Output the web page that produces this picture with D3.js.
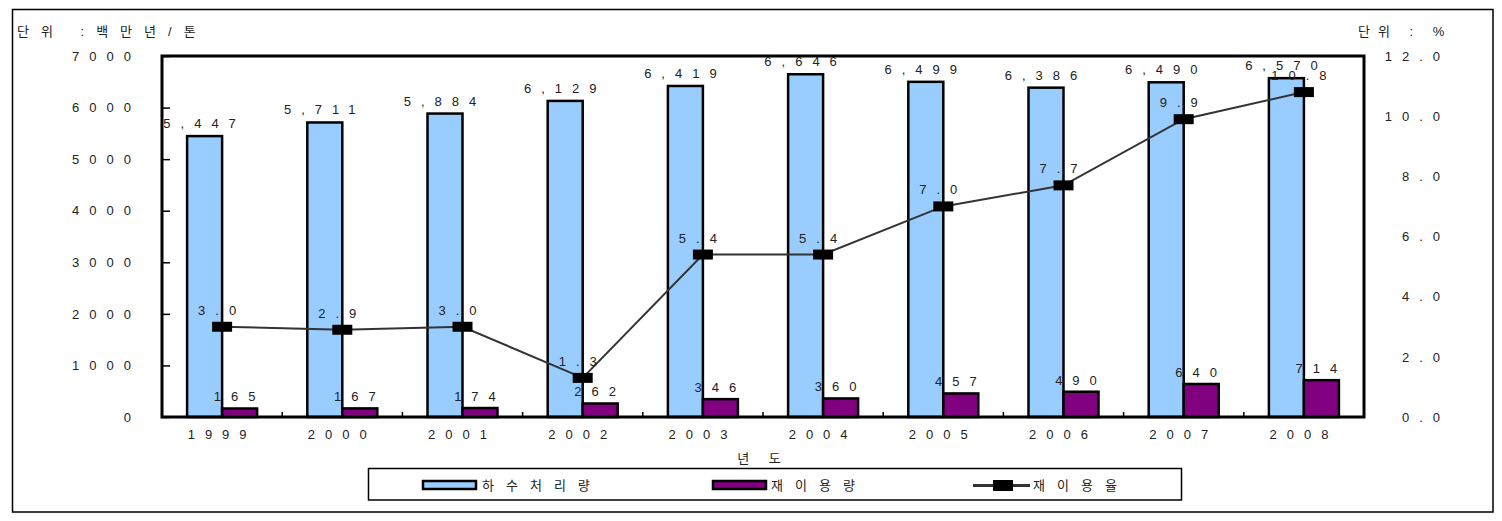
<!DOCTYPE html>
<html>
<head>
<meta charset="utf-8">
<script src="https://cdn.jsdelivr.net/npm/d3@7"></script>
<style>
    body { margin: 0; background: #fff; }
    text { font-family: "Liberation Sans", "Noto Sans CJK KR", sans-serif; font-size: 13px; fill: #222; }
</style>
</head>
<body>
<script>
/* Chart data */
var years = ['1999', '2000', '2001', '2002', '2003', '2004', '2005', '2006', '2007', '2008'];
var treated = [5447, 5711, 5884, 6129, 6419, 6646, 6499, 6386, 6490, 6570];   // 하수처리량
var reused = [165, 167, 174, 262, 346, 360, 457, 490, 640, 714];             // 재이용량
var rate = [3.0, 2.9, 3.0, 1.3, 5.4, 5.4, 7.0, 7.7, 9.9, 10.8];               // 재이용율
var leftTicks = [0, 1000, 2000, 3000, 4000, 5000, 6000, 7000];
var rightTicks = [0, 2, 4, 6, 8, 10, 12];

/* Plot area */
var width = 1502, height = 521;
var plot = {left: 162, right: 1364, top: 56, bottom: 417};

var svg = d3.select('body')
    .append('svg')
    .attr('width', width)
    .attr('height', height);

/* Outer frame */
svg.append('rect')
    .attr('x', 12.5).attr('y', 9.5)
    .attr('width', 1480.5).attr('height', 502.5)
    .attr('fill', 'none')
    .attr('stroke', '#000')
    .attr('stroke-width', 1.5);

/* Scales */
var x = d3.scaleBand().domain(years).range([plot.left, plot.right]);
var xs = d3.scaleBand().domain(['treated', 'reused'])
    .range([0, x.bandwidth()]).paddingOuter(0.717);
var yL = d3.scaleLinear().domain([0, 7000]).range([plot.bottom, plot.top]);
var yR = d3.scaleLinear().domain([0, 12]).range([plot.bottom, plot.top]);

/* Left axis, ticks pointing inward */
var gL = svg.append('g')
    .attr('transform', 'translate(' + plot.left + ',0)')
    .call(d3.axisLeft(yL).tickValues(leftTicks).tickSizeInner(-8).tickSizeOuter(0)
          .tickPadding(21).tickFormat(d3.format('d')));
gL.select('.domain').remove();
gL.selectAll('line').attr('stroke', '#000').attr('stroke-width', 1.5);
gL.selectAll('text').style('letter-spacing', '10px').attr('fill', '#222');

/* Right axis, labels only */
var gR = svg.append('g')
    .attr('transform', 'translate(' + plot.right + ',0)')
    .call(d3.axisRight(yR).tickValues(rightTicks).tickSize(0)
          .tickPadding(86).tickFormat(d3.format('.1f')));
gR.select('.domain').remove();
gR.selectAll('text').attr('text-anchor', 'end').style('letter-spacing', '10px').attr('fill', '#222');

/* Bottom axis: year labels at centres, ticks at category boundaries */
var gB = svg.append('g')
    .attr('transform', 'translate(0,' + plot.bottom + ')')
    .call(d3.axisBottom(x).tickSize(0).tickPadding(13));
gB.select('.domain').remove();
gB.selectAll('text').style('letter-spacing', '10px').attr('fill', '#222');

svg.append('g').selectAll('line')
    .data(years.slice(1))
    .enter()
    .append('line')
    .attr('x1', function (d) { return x(d); })
    .attr('x2', function (d) { return x(d); })
    .attr('y1', plot.bottom)
    .attr('y2', plot.bottom - 5)
    .attr('stroke', '#000')
    .attr('stroke-width', 1.5);

/* Bars */
var barG = svg.append('g');
barG.selectAll('.treated')
    .data(treated)
    .enter()
    .append('rect')
    .attr('class', 'treated')
    .attr('x', function (d, i) { return x(years[i]) + xs('treated'); })
    .attr('y', function (d) { return yL(d); })
    .attr('width', xs.bandwidth())
    .attr('height', function (d) { return yL(0) - yL(d); })
    .attr('fill', '#99CCFF')
    .attr('stroke', '#000')
    .attr('stroke-width', 2.5);

barG.selectAll('.reused')
    .data(reused)
    .enter()
    .append('rect')
    .attr('class', 'reused')
    .attr('x', function (d, i) { return x(years[i]) + xs('reused'); })
    .attr('y', function (d) { return yL(d); })
    .attr('width', xs.bandwidth())
    .attr('height', function (d) { return yL(0) - yL(d); })
    .attr('fill', '#800080')
    .attr('stroke', '#000')
    .attr('stroke-width', 2.5);

/* Plot border */
svg.append('rect')
    .attr('x', plot.left).attr('y', plot.top)
    .attr('width', plot.right - plot.left)
    .attr('height', plot.bottom - plot.top)
    .attr('fill', 'none')
    .attr('stroke', '#000')
    .attr('stroke-width', 3);

/* Reuse rate line with square markers */
var cx = function (i) { return x(years[i]) + x.bandwidth() / 2; };
var line = d3.line()
    .x(function (d, i) { return cx(i); })
    .y(function (d) { return yR(d); });

svg.append('path')
    .datum(rate)
    .attr('d', line)
    .attr('fill', 'none')
    .attr('stroke', '#333')
    .attr('stroke-width', 2);

svg.append('g').selectAll('rect')
    .data(rate)
    .enter()
    .append('rect')
    .attr('x', function (d, i) { return cx(i) - 10; })
    .attr('y', function (d) { return yR(d) - 5; })
    .attr('width', 20)
    .attr('height', 10)
    .attr('fill', '#000');

/* Value labels */
var labels = svg.append('g').style('letter-spacing', '10px').attr('text-anchor', 'middle');
labels.selectAll('.lt')
    .data(treated)
    .enter()
    .append('text')
    .attr('x', function (d, i) { return x(years[i]) + xs('treated') + xs.bandwidth() / 2; })
    .attr('y', function (d) { return yL(d) - 8; })
    .text(d3.format(','));

labels.selectAll('.lr')
    .data(reused)
    .enter()
    .append('text')
    .attr('x', function (d, i) { return x(years[i]) + xs('reused') + xs.bandwidth() / 2; })
    .attr('y', function (d) { return yL(d) - 7; })
    .text(d3.format('d'));

labels.selectAll('.lp')
    .data(rate)
    .enter()
    .append('text')
    .attr('x', function (d, i) { return cx(i); })
    .attr('y', function (d) { return yR(d) - 12; })
    .text(d3.format('.1f'));

/* Unit captions and axis title */
svg.append('text').attr('x', 17).attr('y', 36)
    .style('letter-spacing', '12px').text('단위 :백만년/톤');
svg.append('text').attr('x', 1358).attr('y', 36)
    .style('letter-spacing', '8px').text('단위 : %');
svg.append('text').attr('x', (plot.left + plot.right) / 2).attr('y', 463)
    .attr('text-anchor', 'middle')
    .style('letter-spacing', '8px').text('년 도');

/* Legend */
var legend = svg.append('g');
legend.append('rect')
    .attr('x', 368.5).attr('y', 468.5)
    .attr('width', 813).attr('height', 31.5)
    .attr('fill', 'none')
    .attr('stroke', '#000')
    .attr('stroke-width', 1.5);

legend.append('rect')
    .attr('x', 423).attr('y', 481).attr('width', 53).attr('height', 8)
    .attr('fill', '#99CCFF').attr('stroke', '#000').attr('stroke-width', 2.5);
legend.append('text').attr('x', 482).attr('y', 490)
    .style('letter-spacing', '12px').text('하수처리량');

legend.append('rect')
    .attr('x', 713).attr('y', 481).attr('width', 53).attr('height', 8)
    .attr('fill', '#800080').attr('stroke', '#000').attr('stroke-width', 2.5);
legend.append('text').attr('x', 771).attr('y', 490)
    .style('letter-spacing', '12px').text('재이용량');

legend.append('line')
    .attr('x1', 973).attr('x2', 1030).attr('y1', 485.5).attr('y2', 485.5)
    .attr('stroke', '#333').attr('stroke-width', 3);
legend.append('rect')
    .attr('x', 993).attr('y', 480).attr('width', 20).attr('height', 11)
    .attr('fill', '#000');
legend.append('text').attr('x', 1033).attr('y', 490)
    .style('letter-spacing', '12px').text('재이용율');
</script>
</body>
</html>
